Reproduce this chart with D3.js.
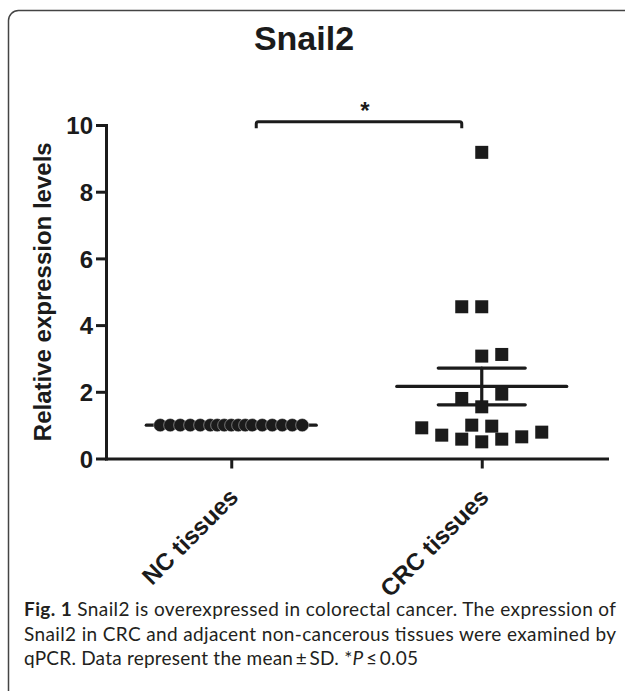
<!DOCTYPE html>
<html>
<head>
<meta charset="utf-8">
<script src="https://cdn.jsdelivr.net/npm/d3@7"></script>
<style>
  html, body { margin: 0; padding: 0; background: #fff; }
  svg { display: block; }
</style>
</head>
<body>
<div id="chart"></div>
<script>
// ---------------- data ----------------
const chartTitle = "Snail2";
const yAxisLabel = "Relative expression levels";
const categories = ["NC tissues", "CRC tissues"];
const yTicks = [0, 2, 4, 6, 8, 10];

// individual samples (relative expression)
const ncValues = [1, 1, 1, 1, 1, 1, 1, 1, 1, 1, 1, 1, 1, 1, 1, 1, 1];
// horizontal dodge slot of each NC sample (scatter column rank)
const ncDodge = [-7.1, -6.1, -5.1, -4.1, -3.1, -2.1, -1.4, -0.7, 0,
                 0.7, 1.4, 2.1, 3.1, 4.1, 5.1, 6.1, 7.1];
const crcValues = [9.18, 4.55, 4.55, 3.07, 3.12, 1.80, 1.93, 1.55,
                   0.92, 0.70, 0.58, 1.00, 0.50, 0.97, 0.58, 0.65, 0.79];
// horizontal dodge slot of each CRC sample (scatter column rank)
const crcDodge = [0, -2, 0, 0, 2, -2, 2, 0, -6, -4, -2, -1, 0, 1, 2, 4, 6];

// summary statistics per group
const groupMean = [1.0, 2.16];
const groupErr = [0.0, 0.55];

const significanceMark = "*";
const captionBold = "Fig. 1";
const captionLines = [
  " Snail2 is overexpressed in colorectal cancer. The expression of",
  "Snail2 in CRC and adjacent non-cancerous tissues were examined by",
  "qPCR. Data represent the mean\u2009\u00b1\u2009SD. *"
];

// ---------------- layout ----------------
const W = 625, H = 691;
const ink = "#1b1b1b";
const boldFont = "'Liberation Sans', Arial, Helvetica, sans-serif";
const capFont = "Lato, 'Open Sans', sans-serif";

const svg = d3.select("#chart").append("svg")
  .attr("width", W).attr("height", H)
  .attr("viewBox", `0 0 ${W} ${H}`);

svg.append("rect").attr("width", W).attr("height", H).attr("fill", "#fff");

// frame (cropped at right and bottom, as in the figure)
svg.append("rect")
  .attr("x", 8.5).attr("y", 10.5)
  .attr("width", 640).attr("height", 720)
  .attr("rx", 10).attr("ry", 10)
  .attr("fill", "none").attr("stroke", "#444").attr("stroke-width", 1.5);

const plot = { left: 106, right: 607, top: 125, bottom: 458.5 };

const x = d3.scalePoint().domain(categories)
  .range([plot.left, plot.right]).padding(0.5);
const y = d3.scaleLinear().domain([0, 10]).range([plot.bottom, plot.top]);
const dodge = d3.scaleLinear().domain([-1, 1]).range([-10, 10]);

// title
svg.append("text")
  .attr("x", 304).attr("y", 50)
  .attr("text-anchor", "middle")
  .attr("font-family", boldFont).attr("font-weight", "bold")
  .attr("font-size", 34).attr("fill", ink)
  .text(chartTitle);

// y axis
const gy = svg.append("g")
  .attr("transform", `translate(${plot.left},0)`)
  .call(d3.axisLeft(y).tickValues(yTicks).tickSize(10).tickSizeOuter(0)
        .tickPadding(3).tickFormat(d3.format("d")));
gy.select(".domain").attr("stroke", ink).attr("stroke-width", 3).attr("stroke-linecap", "square");
gy.selectAll(".tick line").attr("stroke", ink).attr("stroke-width", 3);
gy.selectAll(".tick text")
  .attr("font-family", boldFont).attr("font-weight", "bold")
  .attr("font-size", 24).attr("fill", ink).attr("dy", "0.36em");

// x axis
const gx = svg.append("g")
  .attr("transform", `translate(0,${plot.bottom})`)
  .call(d3.axisBottom(x).tickSize(10).tickSizeOuter(0));
gx.select(".domain").attr("stroke", ink).attr("stroke-width", 3).attr("stroke-linecap", "square");
gx.selectAll(".tick line").attr("stroke", ink).attr("stroke-width", 3);
gx.selectAll(".tick text")
  .attr("x", 0).attr("y", 0).attr("dy", 0)
  .attr("text-anchor", "end")
  .attr("transform", "translate(8,40) rotate(-45)")
  .attr("font-family", boldFont).attr("font-weight", "bold")
  .attr("font-size", 24).attr("fill", ink);

// y label
svg.append("text")
  .attr("transform", `translate(51,${(plot.top + plot.bottom) / 2}) rotate(-90)`)
  .attr("text-anchor", "middle")
  .attr("font-family", boldFont).attr("font-weight", "bold")
  .attr("font-size", 24).attr("fill", ink)
  .text(yAxisLabel);

// mean and error bars
const meanHalf = 85, capHalf = 43.5;
categories.forEach((c, i) => {
  const cx = x(c);
  const g = svg.append("g").attr("stroke", ink).attr("stroke-width", 3.2)
    .attr("stroke-linecap", "round");
  if (groupErr[i] > 0) {
    g.append("line").attr("x1", cx).attr("x2", cx)
      .attr("y1", y(groupMean[i] + groupErr[i])).attr("y2", y(groupMean[i] - groupErr[i]));
    [groupMean[i] + groupErr[i], groupMean[i] - groupErr[i]].forEach(v => {
      g.append("line").attr("x1", cx - capHalf).attr("x2", cx + capHalf)
        .attr("y1", y(v)).attr("y2", y(v));
    });
  }
  g.append("line").attr("x1", cx - meanHalf).attr("x2", cx + meanHalf)
    .attr("y1", y(groupMean[i])).attr("y2", y(groupMean[i]));
});

// NC points (circles, spread along a row)
const ncCx = x(categories[0]);
svg.append("g").selectAll("circle").data(ncValues).join("circle")
  .attr("cx", (d, i) => ncCx + dodge(ncDodge[i]))
  .attr("cy", d => y(d))
  .attr("r", 6.6)
  .attr("fill", ink)
  .attr("stroke", "#fff").attr("stroke-width", 0.4);

// CRC points (squares)
const crcCx = x(categories[1]);
const sq = 13;
svg.append("g").selectAll("rect").data(crcValues).join("rect")
  .attr("x", (d, i) => crcCx + dodge(crcDodge[i]) - sq / 2)
  .attr("y", d => y(d) - sq / 2)
  .attr("width", sq).attr("height", sq)
  .attr("fill", ink);

// significance bracket
const bx1 = x(categories[0]) + 25, bx2 = x(categories[1]) - 20;
const by = y(10.1), drop = 6.5;
svg.append("path")
  .attr("d", `M${bx1},${by + drop} V${by + 2} Q${bx1},${by} ${bx1 + 2},${by} H${bx2 - 2} Q${bx2},${by} ${bx2},${by + 2} V${by + drop}`)
  .attr("fill", "none").attr("stroke", ink).attr("stroke-width", 3);
svg.append("text")
  .attr("x", (bx1 + bx2) / 2 + 6).attr("y", 119)
  .attr("text-anchor", "middle")
  .attr("font-family", boldFont).attr("font-weight", "bold")
  .attr("font-size", 24).attr("fill", ink)
  .text(significanceMark);

// caption
const capX = 24, capW = 592, capY0 = 616, capDY = 24.5;
const capColor = "#231f20";
const capSize = 19;
const l1 = svg.append("text").attr("x", capX).attr("y", capY0)
  .attr("font-family", capFont).attr("font-size", capSize).attr("fill", capColor)
  .attr("textLength", capW).attr("lengthAdjust", "spacing");
l1.append("tspan").attr("font-weight", "bold").text(captionBold);
l1.append("tspan").text(captionLines[0]);
svg.append("text").attr("x", capX).attr("y", capY0 + capDY)
  .attr("font-family", capFont).attr("font-size", capSize).attr("fill", capColor)
  .attr("textLength", capW).attr("lengthAdjust", "spacing")
  .text(captionLines[1]);
const l3 = svg.append("text").attr("x", capX).attr("y", capY0 + 2 * capDY)
  .attr("font-family", capFont).attr("font-size", capSize).attr("fill", capColor)
  .attr("textLength", 394).attr("lengthAdjust", "spacing");
l3.append("tspan").text(captionLines[2]);
l3.append("tspan").attr("font-style", "italic").text("P");
l3.append("tspan").text("\u2009\u2264\u20090.05");
</script>
</body>
</html>
